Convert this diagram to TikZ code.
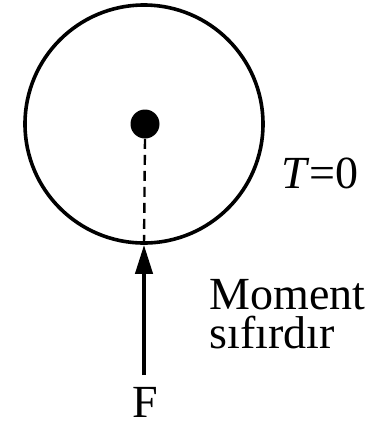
\documentclass[tikz,border=0pt]{standalone}
\usepackage{fontspec}
\setmainfont{Liberation Serif}
\usepackage{tikz}
\usetikzlibrary{positioning,arrows.meta}
\tikzset{
  node-wheel/.style={draw=black,line width=1.8pt,circle,inner sep=0pt,
    minimum size=119pt},
  node-pivot/.style={fill=black,circle,inner sep=0pt,minimum size=14.5pt},
  node-label/.style={inner sep=0pt,font=\fontsize{23}{27}\selectfont},
  arrow-force/.style={-{Triangle[length=14.5pt,width=8.5pt]},line width=2pt},
  line-radius/.style={line width=1.2pt,dash pattern=on 5pt off 3pt},
}
\begin{document}
\begin{tikzpicture}[x=0.5pt,y=-0.5pt]
  \useasboundingbox (0,0) rectangle (389,424);
  \node[node-wheel] (wheel) at (144,124) {};
  \node[node-pivot] (pivot) at (145,124) {};
  \coordinate (tail) at (144,375);
  \node[node-label,anchor=base] (flbl) at (145,417) {F};
  \node[node-label,anchor=base west] (tlbl) at (281,188) {\textit{T}=0};
  \node[node-label,anchor=base west] (mlbl) at (209,309) {Moment};
  \node[node-label,anchor=base west] (slbl) at (209,348) {sıfırdır};
  \draw[line-radius] (pivot.south) -- (wheel.south);
  \draw[arrow-force] (tail) -- (wheel.south);
\end{tikzpicture}
\end{document}
